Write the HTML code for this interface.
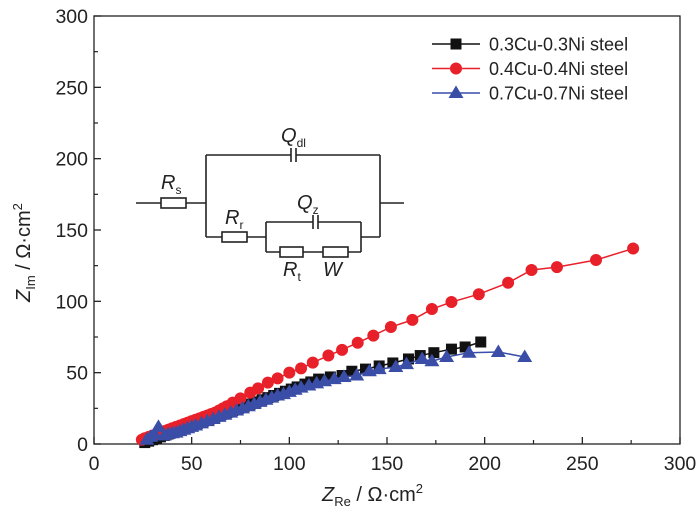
<!DOCTYPE html>
<html><head><meta charset="utf-8"><style>
body{margin:0;background:#fff}
svg{font-family:"Liberation Sans",sans-serif}
</style></head><body>
<svg width="700" height="518" viewBox="0 0 700 518" xmlns="http://www.w3.org/2000/svg">
<g id="plot"></g>
<g fill="none" stroke="#222" stroke-width="1.6">
<path d="M136 203H161M186 203H206M206 155V237M206 155H291M296 155H380M380 155V237M380 203H404M206 237H222M247 237H266M266 222V252M266 222H313M318 222H361M361 222V252M266 252H280M303 252H323M348 252H361M361 237H380"/>
<path d="M291 148V162M296 148V162M313 215V229M318 215V229"/>
<rect x="161" y="198" width="25" height="10" fill="#fff"/>
<rect x="222" y="232" width="25" height="10" fill="#fff"/>
<rect x="280" y="247" width="23" height="10" fill="#fff"/>
<rect x="323" y="247" width="25" height="10" fill="#fff"/>
</g>
<g font-style="italic" font-size="20" fill="#222">
<text x="281" y="142">Q<tspan font-style="normal" font-size="12" dy="5">dl</tspan></text>
<text x="161" y="189">R<tspan font-style="normal" font-size="12" dy="5">s</tspan></text>
<text x="225" y="224">R<tspan font-style="normal" font-size="12" dy="5">r</tspan></text>
<text x="297" y="209">Q<tspan font-style="normal" font-size="12" dy="5">z</tspan></text>
<text x="283" y="276">R<tspan font-style="normal" font-size="12" dy="5">t</tspan></text>
<text x="323" y="276">W</text>
</g>
</svg>
<script>
const xTicks=[0,50,100,150,200,250,300];
const yTicks=[0,50,100,150,200,250,300];
const blackX=[26,28,30,32,34,36,38,40,42,44,47,50,53,56,59,62,65,68,71,74,77,80,83,86,89,92,95,98,101,104,108,111,115,121,127,132,139,146,153,161,167,174,183,190,198];
const blackY=[1,2,3,4,5,6,7,8,9,10,11.5,13,14.5,16,17.5,19,20.5,22,23.5,25,26.5,28,29.5,31,32.5,34,35.5,37,38.5,40,42,43.5,45.5,47,48,51,52.5,54.7,56.8,59.6,62,64,66.5,68,71.5];
const redX=[24.5,26,28,30,32,34,36,38,40,42,44,46,48,50,52,54,56,58,60,62,64,66,68,71,75,80,84,89,94,100,106,112,120,127,135,143,152,163,173,183,197,212,224,237,257,276];
const redY=[3,4,5,6,7,8,9,10,11,12,13,14,15,16,17,18,19,20,21,22,23.5,25,26.5,29,32,36,39,43,46,50,53,57,62,66,71,76,82,87,94.6,99.5,105,113,122,124,129,137];
const blueX=[27,29,31,33,36,38,40,42,44,46,48,50,52,55,58,61,64,67,70,73,76,79,82,85,88,91,94,97,100,103,106,110,114,118,123,128,134.5,141,146,154.5,160,168,173,180.5,192,207,220.5];
const blueY=[3,5,7,12,6,7,7.5,8,9,10,11,12,13,14.5,16,17.5,19,20.5,22,23.5,25,26.5,28,29.5,31,32.5,34,35,36.5,38,39.5,41,42.5,44,45.5,47,48,51,52.5,54,56,59.6,58,61,64,64.5,61];
const legendLabels=["0.3Cu-0.3Ni steel","0.4Cu-0.4Ni steel","0.7Cu-0.7Ni steel"];
const L=94,R=680,T=16,B=444;
const sx=v=>L+(v-0)*(R-L)/300, sy=v=>B-(v-0)*(B-T)/300;
const NS="http://www.w3.org/2000/svg", g=document.getElementById('plot');
function mk(t,a,p){const e=document.createElementNS(NS,t);for(const k in a)e.setAttribute(k,a[k]);(p||g).appendChild(e);return e;}
const fr=mk('rect',{x:L,y:T,width:R-L,height:B-T,fill:'none',stroke:'#222','stroke-width':1.3});


for(let i=0;i<xTicks.length;i++){
 const v=xTicks[i],x=sx(v);
 mk('line',{x1:x,x2:x,y1:B,y2:B-7,stroke:'#222','stroke-width':1.3});
 if(i<xTicks.length-1){const m=sx(v+25);mk('line',{x1:m,x2:m,y1:B,y2:B-4,stroke:'#222','stroke-width':1.2});}
 const t=mk('text',{x:x,y:B+26,'text-anchor':'middle','font-size':19.5,fill:'#222'});t.textContent=v;
 
 
}
for(let i=0;i<yTicks.length;i++){
 const v=yTicks[i],y=sy(v);
 mk('line',{x1:L,x2:L+7,y1:y,y2:y,stroke:'#222','stroke-width':1.3});
 if(i<yTicks.length-1){const m=sy(v+25);mk('line',{x1:L,x2:L+4,y1:m,y2:m,stroke:'#222','stroke-width':1.2});}
 const t=mk('text',{x:L-6,y:y+7,'text-anchor':'end','font-size':19.5,fill:'#222'});t.textContent=v;
 
 
}
const xl=mk('text',{x:322,y:501,'font-size':20,fill:'#222'});
xl.innerHTML='<tspan font-style="italic">Z</tspan><tspan font-size="13" dy="5">Re</tspan><tspan dy="-5"> / Ω·cm</tspan><tspan font-size="13" dy="-8">2</tspan>';


const yl=mk('text',{x:0,y:0,'font-size':20,fill:'#222',transform:'translate(30,302) rotate(-90)'});
yl.innerHTML='<tspan font-style="italic">Z</tspan><tspan font-size="13" dy="5">Im</tspan><tspan dy="-5"> / Ω·cm</tspan><tspan font-size="13" dy="-8">2</tspan>';


function marker(type,x,y,col,p){
 if(type==0) return mk('rect',{x:x-5.5,y:y-5.5,width:11,height:11,fill:col},p);
 if(type==1) return mk('circle',{cx:x,cy:y,r:6,fill:col},p);
 return mk('polygon',{points:`${x},${y-7.5} ${x-7.5},${y+5} ${x+7.5},${y+5}`,fill:col},p);
}
const series=[[blackX,blackY,'#111'],[redX,redY,'#e8202a'],[blueX,blueY,'#3a4ea8']];
const names=['series-0.3cu','series-0.4cu','series-0.7cu'];
series.forEach((s,k)=>{
 const sg=mk('g',{});
 
 
 mk('polyline',{points:s[0].map((v,i)=>sx(v)+','+sy(s[1][i])).join(' '),fill:'none',stroke:s[2],'stroke-width':1.5},sg);
 s[0].forEach((v,i)=>{const m=marker(k,sx(v),sy(s[1][i]),s[2],sg);
  
  });
});
legendLabels.forEach((lab,k)=>{
 const y=44+k*24.5;
 const lg=mk('g',{});
 
 
 mk('line',{x1:432,x2:480,y1:y,y2:y,stroke:series[k][2],'stroke-width':1.5},lg);
 marker(k,456,y,series[k][2],lg);
 const t=mk('text',{x:489,y:y+6.5,'font-size':18,fill:'#222'},lg);t.textContent=lab;
});
</script>
</body></html>
